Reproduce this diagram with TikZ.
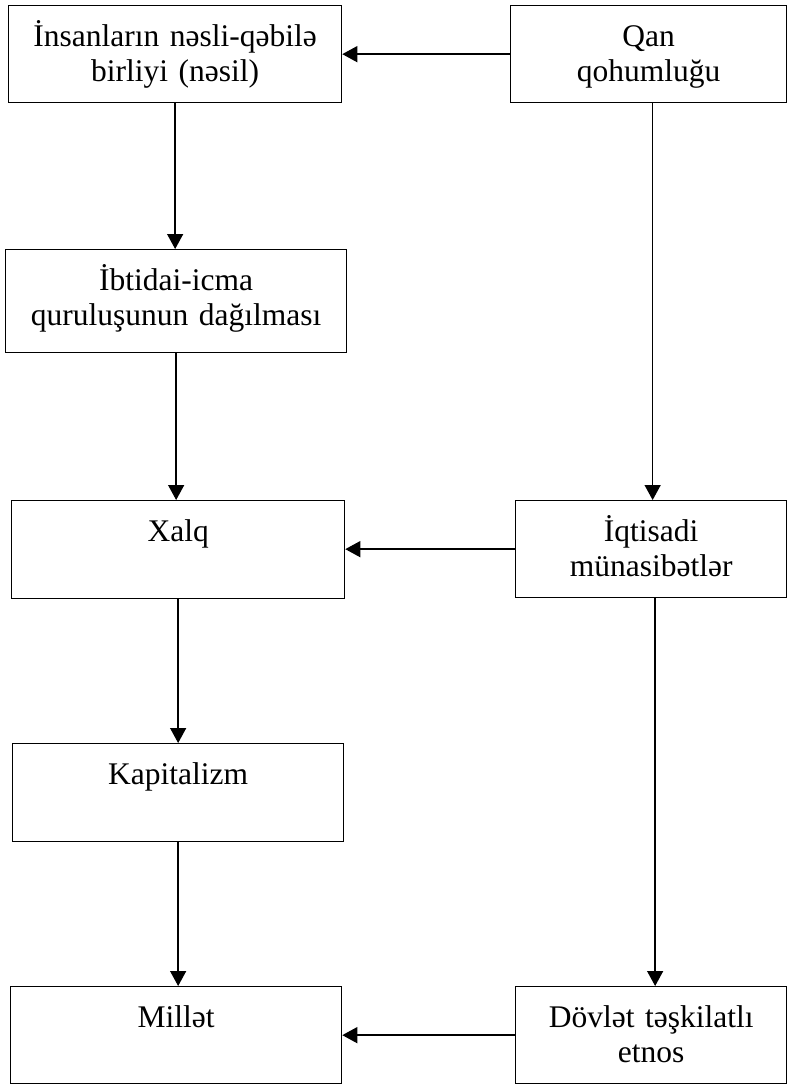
\documentclass[tikz,border=0pt]{standalone}
\usepackage{fontspec}
\setmainfont{Liberation Serif}
\usetikzlibrary{arrows.meta}

\begin{document}
\begin{tikzpicture}[x=0.5pt, y=-0.5pt,
        box/.style = {draw, line width=0.65pt, anchor=north west, align=center,
            inner xsep=0pt, inner ysep=0pt, text height=20.5pt, text depth=28pt,
            font=\fontsize{15.75pt}{17.5pt}\selectfont},
        arr/.style = {-{Triangle[length=7.5pt,width=8pt]}, line width=0.7pt}]
    \useasboundingbox (0,0) rectangle (789,1084);

    % left column
    \node[box, text width=166.5pt] (nesil) at (8,5) {İnsanların nəsli-qəbilə\\birliyi (nəsil)};
    \node[box, text width=170.5pt, text depth=31pt] (ibtidai) at (5,249) {İbtidai-icma\\quruluşunun dağılması};
    \node[box, text width=166.5pt, text depth=28.5pt] (xalq) at (11,500) {Xalq};
    \node[box, text width=165.5pt, text depth=28.5pt] (kapital) at (12,743) {Kapitalizm};
    \node[box, text width=165.5pt] (millet) at (10,986) {Millət};

    % right column
    \node[box, text width=138pt] (qan) at (510,5) {Qan\\qohumluğu};
    \node[box, text width=135.5pt] (iqtisadi) at (515,500) {İqtisadi\\münasibətlər};
    \node[box, text width=135.5pt] (dovlet) at (515,986) {Dövlət təşkilatlı\\etnos};

    \path[arr] (nesil.south) edge (nesil.south |- ibtidai.north);
    \path[arr] (ibtidai.south) edge (ibtidai.south |- xalq.north);
    \path[arr] (xalq.south) edge (xalq.south |- kapital.north);
    \path[arr] (kapital.south) edge (kapital.south |- millet.north);

    \path[arr] ([xshift=2pt]qan.south) edge ([xshift=2pt]qan.south |- iqtisadi.north);
    \path[arr] ([xshift=2pt]iqtisadi.south) edge ([xshift=2pt]iqtisadi.south |- dovlet.north);

    \path[arr] (qan.west) edge (qan.west -| nesil.east);
    \path[arr] (iqtisadi.west) edge (iqtisadi.west -| xalq.east);
    \path[arr] (dovlet.west) edge (dovlet.west -| millet.east);
\end{tikzpicture}
\end{document}
